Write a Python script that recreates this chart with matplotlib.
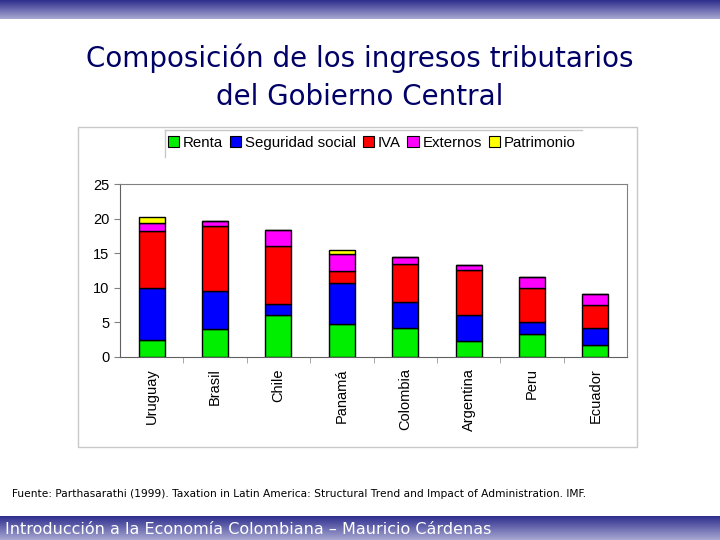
import numpy as np
import matplotlib
matplotlib.use("Agg")
import matplotlib.pyplot as plt
from matplotlib.patches import Rectangle, Patch
from matplotlib.lines import Line2D

# data (% of GDP, stacked)
paises = ["Uruguay", "Brasil", "Chile", "Panamá", "Colombia", "Argentina", "Peru", "Ecuador"]
renta = [2.4, 4.0, 6.0, 4.7, 4.15, 2.3, 3.3, 1.8]
seguridad = [7.5, 5.5, 1.6, 6.0, 3.75, 3.8, 1.8, 2.4]
iva = [8.3, 9.4, 8.45, 1.8, 5.5, 6.5, 4.9, 3.3]
externos = [1.2, 0.7, 2.25, 2.4, 1.0, 0.7, 1.6, 1.6]
patrimonio = [0.9, 0.0, 0.0, 0.5, 0.0, 0.0, 0.0, 0.0]

series = [("Renta", renta, "#00ee00"),
          ("Seguridad social", seguridad, "#0000ff"),
          ("IVA", iva, "#ff0000"),
          ("Externos", externos, "#ff00ff"),
          ("Patrimonio", patrimonio, "#ffff00")]

fig = plt.figure(figsize=(7.2, 5.4), dpi=100)

# gradient bands at top and bottom of the slide
grad = np.linspace(0, 1, 100).reshape(-1, 1)
band_cmap = matplotlib.colors.LinearSegmentedColormap.from_list("band", ["#2e2e8e", "#a8a8d2"])
top = fig.add_axes([0, 1 - 19 / 540, 1, 19 / 540])
top.imshow(grad, aspect="auto", cmap=band_cmap, extent=[0, 1, 0, 1])
top.axis("off")
bot = fig.add_axes([0, 0, 1, 24 / 540])
bot.imshow(grad, aspect="auto", cmap=band_cmap, extent=[0, 1, 0, 1])
bot.axis("off")

# title
fig.text(0.5, 1 - 58 / 540, "Composición de los ingresos tributarios", ha="center", va="center",
         fontsize=20, family="DejaVu Sans", color="#000066")
fig.text(0.5, 1 - 97 / 540, "del Gobierno Central", ha="center", va="center",
         fontsize=20, family="DejaVu Sans", color="#000066")

# frame around the pasted chart (behind the axes)
fig.patches.append(Rectangle((78 / 720, 1 - 447 / 540), (637 - 78) / 720, (447 - 127) / 540,
                             transform=fig.transFigure, facecolor="none", edgecolor="#c8c8c8",
                             lw=1, zorder=-1))

ax = fig.add_axes([120 / 720, 1 - 357 / 540, 507 / 720, 173 / 540])
ax.patch.set_alpha(0)
x = np.arange(len(paises))
bottom = np.zeros(len(paises))
for name, vals, col in series:
    vals = np.array(vals)
    ax.bar(x, vals, 0.41, bottom=bottom, color=col, edgecolor="black", linewidth=1)
    bottom += vals

ax.set_xlim(-0.5, len(paises) - 0.5)
ax.set_ylim(0, 25)
ax.set_yticks([0, 5, 10, 15, 20, 25])
ax.set_xticks(x)
ax.set_xticklabels(paises, rotation=90, family="Liberation Sans", fontsize=10.5)
ax.tick_params(axis="x", length=0, pad=8)
ax.set_xticks(np.arange(0.5, len(paises) - 0.5, 1), minor=True)
ax.tick_params(axis="x", which="minor", length=4, color="#999999", direction="out")
ax.tick_params(axis="y", length=4, color="#808080", labelsize=10.5)
for lab in ax.get_yticklabels():
    lab.set_family("Liberation Sans")
for s in ["top", "right"]:
    ax.spines[s].set_color("#808080")
for s in ["left", "bottom"]:
    ax.spines[s].set_color("#606060")

# legend with half-open box
handles = [Patch(facecolor=c, edgecolor="black", lw=0.8) for _, _, c in series]
fig.legend(handles, [n for n, _, _ in series], loc="center left",
           bbox_to_anchor=(168 / 720, 1 - 143 / 540), ncol=5, frameon=False,
           handlelength=0.75, handleheight=0.75, handletextpad=0.25, columnspacing=0.45,
           prop={"family": "Liberation Sans", "size": 10.8}, borderaxespad=0, borderpad=0)
fig.add_artist(Line2D([165 / 720, 165 / 720], [1 - 157 / 540, 1 - 130 / 540], color="#c8c8c8", lw=1))
fig.add_artist(Line2D([165 / 720, 582 / 720], [1 - 130 / 540, 1 - 130 / 540], color="#c8c8c8", lw=1))

# source and footer
fig.text(12 / 720, 1 - 494 / 540,
         "Fuente: Parthasarathi (1999). Taxation in Latin America: Structural Trend and Impact of Administration. IMF.",
         ha="left", va="center", fontsize=7.7, family="DejaVu Sans")
fig.text(5 / 720, 1 - 530 / 540, "Introducción a la Economía Colombiana – Mauricio Cárdenas",
         ha="left", va="center", fontsize=11.5, family="DejaVu Sans", color="white")

fig.savefig("out.png", dpi=100)
